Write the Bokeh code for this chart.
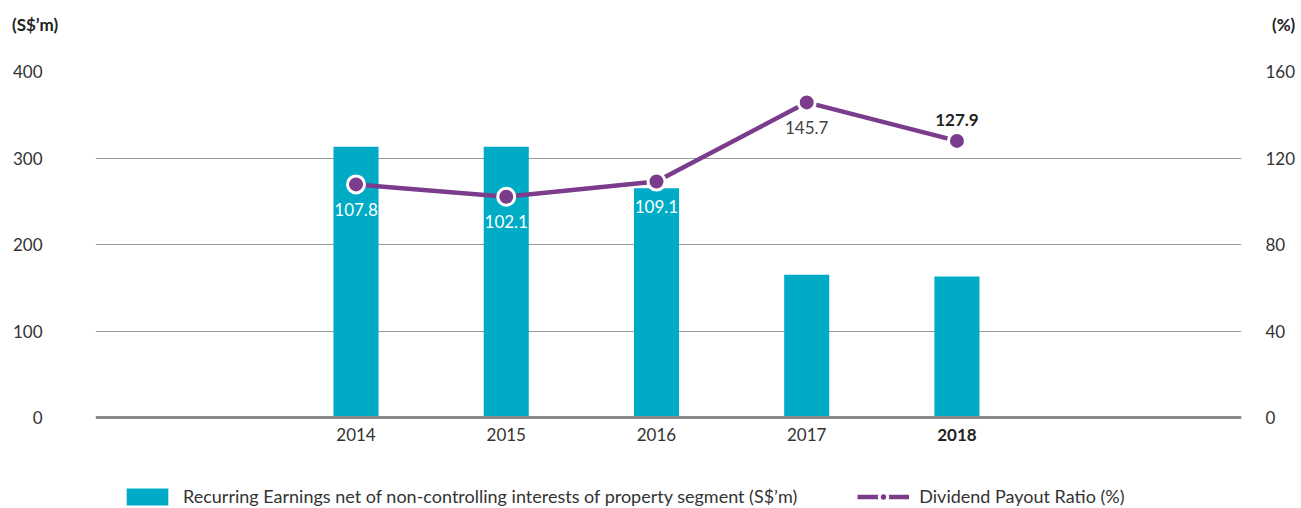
from bokeh.plotting import figure
from bokeh.models import (Range1d, LinearAxis, FixedTicker, Legend, LegendItem,
                          ColumnDataSource, Span, Div)
from bokeh.layouts import column
from bokeh.core.properties import value
from bokeh.embed import file_html
from bokeh.resources import INLINE

# ---- data ----
years = [2014, 2015, 2016, 2017, 2018]
year_labels = ["2014", "2015", "2016", "2017", "2018"]
earnings = [313, 313, 265, 165, 163]          # S$'m, left axis
payout = [107.8, 102.1, 109.1, 145.7, 127.9]  # %, right axis
payout_labels = ["107.8", "102.1", "109.1", "145.7", "127.9"]
left_ticks = [0, 100, 200, 300, 400]
right_ticks = [0, 40, 80, 120, 160]
left_unit = "(S$\u2019m)"
right_unit = "(%)"
bar_name = "Recurring Earnings net of non-controlling interests of property segment (S$\u2019m)"
line_name = "Dividend Payout Ratio (%)"

BAR = "#00abc5"
PURPLE = "#7b3c8c"
TXT = "#333333"
DARK = "#222222"
FONT = "Lato"

HEAD_H = 40
Y_BOTTOM = -105.2          # frame runs down to the canvas bottom (room for labels + legend)
P_BOTTOM = Y_BOTTOM * 160 / 400

header = Div(
    text=('<div style="position:relative;width:1301px;height:%dpx;font-family:Lato;'
          'font-weight:bold;font-size:17px;line-height:20px;color:%s;">'
          '<span style="position:absolute;left:12px;top:15px;">%s</span>'
          '<span style="position:absolute;left:1272px;top:15px;">%s</span></div>')
    % (HEAD_H, DARK, left_unit, right_unit),
    width=1301, height=HEAD_H, margin=0)

p = figure(width=1301, height=508 - HEAD_H, output_backend="svg", toolbar_location=None,
           x_range=Range1d(2012.266, 2019.894), y_range=Range1d(Y_BOTTOM, 400),
           min_border_left=95, min_border_right=60, min_border_top=71 - HEAD_H,
           min_border_bottom=0, margin=0)
p.outline_line_color = None
p.background_fill_color = "white"
p.border_fill_color = "white"
p.extra_y_ranges = {"pct": Range1d(P_BOTTOM, 160)}
p.xaxis.visible = False


def style_axis(ax, standoff):
    ax.axis_line_color = None
    ax.major_tick_line_color = None
    ax.minor_tick_line_color = None
    ax.major_tick_out = 0
    ax.major_tick_in = 0
    ax.minor_tick_out = 0
    ax.minor_tick_in = 0
    ax.major_label_standoff = standoff
    ax.major_label_text_font = FONT
    ax.major_label_text_font_size = "17px"
    ax.major_label_text_color = TXT


ya = p.yaxis[0]
ya.ticker = FixedTicker(ticks=left_ticks)
style_axis(ya, 53)

ra = LinearAxis(y_range_name="pct", ticker=FixedTicker(ticks=right_ticks))
style_axis(ra, 24)
p.add_layout(ra, "right")

p.xgrid.grid_line_color = None
p.ygrid.ticker = FixedTicker(ticks=left_ticks[1:])
p.ygrid.grid_line_color = "#9a9a9a"
p.ygrid.grid_line_width = 1

# bars
src = ColumnDataSource(dict(x=years, top=earnings, pct=payout, lab=payout_labels,
                            col=["white", "white", "white", "#444444", DARK],
                            yo=[25, 25, 25, 25, -21],
                            fs=["normal", "normal", "normal", "normal", "bold"]))
bars = p.vbar(x="x", top="top", width=0.3, bottom=0, source=src, fill_color=BAR, line_color=None)

# base line at zero
p.add_layout(Span(location=0, dimension="width", line_color="#8a8a8c", line_width=3))

# category labels under the base line (latest year in bold)
xsrc = ColumnDataSource(dict(x=years, t=year_labels,
                             fs=["normal", "normal", "normal", "normal", "bold"],
                             c=[TXT, TXT, TXT, TXT, DARK]))
p.text(x="x", y=0, text="t", source=xsrc, text_font=value(FONT), text_font_size="17px",
       text_font_style="fs", text_color="c", text_align="center", text_baseline="middle",
       y_offset=17)

# line
ln = p.line(x="x", y="pct", source=src, y_range_name="pct", line_color=PURPLE, line_width=4.5)
mk = p.scatter(x="x", y="pct", source=src, y_range_name="pct", size=17, fill_color=PURPLE,
               line_color="white", line_width=3)
p.text(x="x", y="pct", text="lab", source=src, y_range_name="pct", text_color="col",
       text_font=value(FONT), text_font_size="17px", text_font_style="fs",
       text_align="center", text_baseline="middle", y_offset="yo")

legend = Legend(items=[LegendItem(label=bar_name, renderers=[bars]),
                       LegendItem(label=line_name, renderers=[ln, mk])],
                location=(26, 1), orientation="horizontal", margin=0, padding=0,
                spacing=60, glyph_width=52, glyph_height=21, label_standoff=10,
                label_text_font=FONT, label_text_font_size="18px",
                label_text_color=TXT, border_line_color=None, background_fill_alpha=0)
p.add_layout(legend, "center")

layout = column(header, p, spacing=0, margin=0)
open("out.html", "w").write(file_html(layout, INLINE))
